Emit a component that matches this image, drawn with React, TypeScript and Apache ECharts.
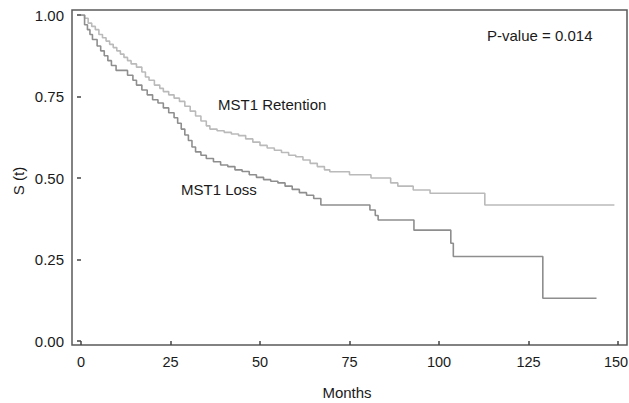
import React, { useEffect, useRef } from "react";
import * as echarts from "echarts";

// Kaplan-Meier steps (months, survival)
const retentionMonths = [0, 1, 2, 3, 4, 5, 6, 7, 8, 9, 10, 11, 12, 13, 14, 15.5, 17, 18, 19, 20.5, 22, 23, 24.5, 26, 27.5, 29, 30.5, 32, 33.5, 35, 36, 38, 40, 42, 44, 46, 48, 50, 52, 54, 56, 58, 60, 62, 64, 66, 68, 69.5, 75, 81, 86.5, 88.5, 92.8, 97.5, 112.8, 149];
const retentionSurv = [1.0, 0.99, 0.975, 0.965, 0.955, 0.94, 0.93, 0.92, 0.91, 0.9, 0.89, 0.88, 0.87, 0.86, 0.85, 0.84, 0.825, 0.81, 0.8, 0.785, 0.775, 0.765, 0.755, 0.745, 0.735, 0.72, 0.705, 0.69, 0.675, 0.66, 0.65, 0.645, 0.64, 0.635, 0.63, 0.62, 0.61, 0.6, 0.592, 0.585, 0.578, 0.57, 0.565, 0.555, 0.545, 0.535, 0.525, 0.519, 0.51, 0.5, 0.485, 0.475, 0.463, 0.453, 0.417, 0.417];

const lossMonths = [0, 1, 1.8, 2.5, 3.2, 4.5, 5.5, 6.5, 7.5, 8.5, 9.8, 13, 14.5, 15.5, 17, 18.5, 20, 21.5, 23, 24.5, 26, 27, 28, 29, 30, 31, 32, 33.5, 35, 37, 39, 41, 43, 45, 47, 49, 51, 53, 55, 57, 59, 61, 63, 65, 67, 80.7, 82.2, 83, 93, 103.3, 104, 129, 144];
const lossSurv = [1.0, 0.97, 0.955, 0.94, 0.925, 0.905, 0.89, 0.875, 0.86, 0.845, 0.83, 0.815, 0.8, 0.785, 0.77, 0.755, 0.74, 0.73, 0.715, 0.7, 0.685, 0.668, 0.65, 0.632, 0.615, 0.595, 0.58, 0.57, 0.56, 0.55, 0.54, 0.535, 0.525, 0.52, 0.51, 0.502, 0.495, 0.49, 0.485, 0.475, 0.465, 0.455, 0.447, 0.437, 0.417, 0.402, 0.385, 0.371, 0.34, 0.3, 0.259, 0.131, 0.131];

const xTicks = { min: 0, max: 150, step: 25 };
const yTicks = { min: 0, max: 1, step: 0.25 };

const FONT = '"Liberation Sans", Arial, Helvetica, sans-serif';

export default function App() {
  const ref = useRef<HTMLDivElement>(null);
  useEffect(() => {
    if (!ref.current) return;
    const chart = echarts.init(ref.current, undefined, { renderer: "svg" });
    const retentionData = retentionMonths.map((t, i) => [t, retentionSurv[i]]);
    const lossData = lossMonths.map((t, i) => [t, lossSurv[i]]);
    const textStyle = (text: string, x: number, y: number, extra: any = {}) => ({
      type: "text",
      x,
      y,
      ...extra,
      style: {
        text,
        fill: "#1a1a1a",
        font: `15px ${FONT}`,
        align: extra.align || "left",
        verticalAlign: "middle",
      },
    });
    chart.setOption({
      animation: false,
      backgroundColor: "#ffffff",
      grid: { left: 81, right: 11, top: 15, bottom: 62, containLabel: false, outerBoundsMode: "none" },
      xAxis: {
        type: "value",
        min: xTicks.min,
        max: xTicks.max,
        interval: xTicks.step,
        offset: 4,
        axisLine: { show: false },
        axisTick: { show: true, length: 4, lineStyle: { color: "#444", width: 1.5 } },
        splitLine: { show: false },
        axisLabel: {
          color: "#1a1a1a",
          fontSize: 14.5,
          fontFamily: FONT,
          margin: 9,
          formatter: (v: number) => (v === xTicks.max ? `{last|${v}}` : `${v}`),
          rich: {
            last: { fontSize: 14.5, fontFamily: FONT, color: "#1a1a1a", padding: [0, 4, 0, 0] },
          },
        },
      },
      yAxis: {
        type: "value",
        min: yTicks.min,
        max: yTicks.max,
        interval: yTicks.step,
        offset: 9,
        axisLine: { show: false },
        axisTick: { show: true, length: 4, lineStyle: { color: "#444", width: 1.5 } },
        splitLine: { show: false },
        axisLabel: {
          color: "#1a1a1a",
          fontSize: 15,
          fontFamily: FONT,
          margin: 8,
          formatter: (v: number) => v.toFixed(2),
        },
      },
      series: [
        {
          name: "MST1 Retention",
          type: "line",
          step: "end",
          data: retentionData,
          showSymbol: false,
          lineStyle: { color: "#bababa", width: 1.6 },
        },
        {
          name: "MST1 Loss",
          type: "line",
          step: "end",
          data: lossData,
          showSymbol: false,
          lineStyle: { color: "#8e8e8e", width: 1.6 },
        },
      ],
      graphic: [
        {
          type: "rect",
          shape: { x: 72, y: 10, width: 555, height: 335 },
          style: { fill: "none", stroke: "#5a5a5a", lineWidth: 1.5 },
          silent: true,
        },
        textStyle("P-value = 0.014", 487, 35),
        textStyle("MST1 Retention", 218, 104),
        textStyle("MST1 Loss", 181, 189),
        textStyle("Months", 347, 392, { align: "center" }),
        textStyle("S (t)", 18, 181, { align: "center", rotation: Math.PI / 2 }),
      ],
    });
    return () => chart.dispose();
  }, []);
  return (
    <div
      ref={ref}
      style={{ position: "fixed", left: 0, top: 0, width: 629, height: 403, background: "#fff" }}
    />
  );
}
